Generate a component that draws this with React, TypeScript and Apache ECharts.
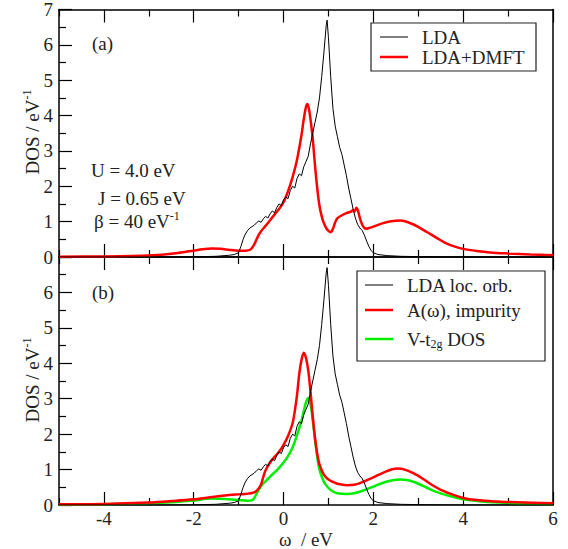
import React, { useEffect, useRef } from "react";
import * as echarts from "echarts";

// Energy axis (eV) and DOS values (states / eV) for each curve, as [omega, dos]
const ldaDos: [number, number][] = [
  [-5, 0], [-3, 0], [-2, 0.005], [-1.5, 0.02], [-1.2, 0.05], [-1.1, 0.07], [-1.0, 0.12],
  [-0.95, 0.3], [-0.9, 0.5], [-0.85, 0.65], [-0.8, 0.75], [-0.75, 0.82], [-0.7, 0.86],
  [-0.65, 0.9], [-0.6, 0.97], [-0.55, 1.02], [-0.5, 0.98], [-0.45, 1.08], [-0.4, 1.15],
  [-0.35, 1.1], [-0.3, 1.22], [-0.25, 1.3], [-0.2, 1.25], [-0.15, 1.4], [-0.1, 1.5],
  [-0.05, 1.45], [0, 1.62], [0.05, 1.7], [0.1, 1.65], [0.15, 1.88], [0.2, 2.0], [0.25, 1.95],
  [0.3, 2.22], [0.35, 2.35], [0.4, 2.3], [0.45, 2.55], [0.5, 2.7], [0.55, 2.85], [0.6, 3.2],
  [0.65, 3.5], [0.7, 3.8], [0.75, 4.1], [0.8, 4.5], [0.85, 5.1], [0.9, 5.8], [0.95, 6.55],
  [0.97, 6.7], [1.0, 6.2], [1.05, 5.1], [1.1, 4.2], [1.15, 3.7], [1.2, 3.4], [1.25, 3.1],
  [1.3, 2.9], [1.35, 2.6], [1.4, 2.3], [1.45, 1.95], [1.5, 1.65], [1.55, 1.35], [1.6, 1.1],
  [1.65, 0.92], [1.7, 0.82], [1.75, 0.75], [1.8, 0.62], [1.85, 0.45], [1.9, 0.3],
  [1.95, 0.18], [2.0, 0.12], [2.1, 0.07], [2.3, 0.04], [2.6, 0.02], [3, 0.01], [4, 0], [6, 0],
];

const dmftDos: [number, number][] = [
  [-5, 0.01], [-4, 0.015], [-3, 0.04], [-2.5, 0.09], [-2.2, 0.14], [-2, 0.18], [-1.8, 0.22],
  [-1.6, 0.24], [-1.4, 0.23], [-1.2, 0.2], [-1.0, 0.18], [-0.85, 0.18], [-0.75, 0.2],
  [-0.7, 0.26], [-0.65, 0.36], [-0.6, 0.5], [-0.55, 0.63], [-0.5, 0.73], [-0.4, 0.88],
  [-0.3, 1.04], [-0.2, 1.2], [-0.1, 1.36], [0, 1.55], [0.1, 1.86], [0.2, 2.25], [0.3, 2.75],
  [0.4, 3.45], [0.45, 3.9], [0.5, 4.25], [0.53, 4.33], [0.56, 4.22], [0.6, 3.9], [0.65, 3.35],
  [0.7, 2.6], [0.75, 1.95], [0.8, 1.45], [0.85, 1.15], [0.9, 0.95], [0.95, 0.82], [1.0, 0.74],
  [1.05, 0.7], [1.1, 0.8], [1.15, 0.98], [1.2, 1.1], [1.3, 1.18], [1.4, 1.24], [1.5, 1.28],
  [1.55, 1.33], [1.58, 1.28], [1.62, 1.39], [1.66, 1.3], [1.7, 1.1], [1.75, 0.92], [1.8, 0.82],
  [1.85, 0.8], [1.9, 0.82], [2.0, 0.86], [2.2, 0.95], [2.4, 1.01], [2.6, 1.03], [2.8, 0.97],
  [3.0, 0.85], [3.2, 0.7], [3.4, 0.55], [3.6, 0.4], [3.8, 0.3], [4.0, 0.23], [4.3, 0.17],
  [4.6, 0.13], [5.0, 0.1], [5.5, 0.07], [6, 0.05],
];

const impurityDos: [number, number][] = [
  [-5, 0.02], [-4, 0.03], [-3, 0.07], [-2.5, 0.11], [-2, 0.16], [-1.5, 0.24], [-1.2, 0.28],
  [-1, 0.3], [-0.8, 0.32], [-0.7, 0.34], [-0.6, 0.4], [-0.5, 0.58], [-0.45, 0.8], [-0.4, 0.98],
  [-0.3, 1.2], [-0.2, 1.36], [-0.1, 1.5], [0, 1.7], [0.1, 1.95], [0.2, 2.3], [0.25, 2.65],
  [0.3, 3.1], [0.35, 3.7], [0.4, 4.1], [0.45, 4.3], [0.5, 4.15], [0.55, 3.8], [0.6, 3.2],
  [0.65, 2.5], [0.7, 1.9], [0.75, 1.45], [0.8, 1.15], [0.9, 0.85], [1.0, 0.72], [1.1, 0.65],
  [1.2, 0.6], [1.4, 0.56], [1.6, 0.58], [1.8, 0.67], [2.0, 0.78], [2.2, 0.9], [2.4, 1.0],
  [2.55, 1.03], [2.7, 1.0], [2.9, 0.89], [3.1, 0.74], [3.3, 0.57], [3.5, 0.43], [3.8, 0.28],
  [4.0, 0.2], [4.3, 0.14], [4.7, 0.1], [5.2, 0.08], [6, 0.05],
];

const vt2gDos: [number, number][] = [
  [-5, 0.01], [-4, 0.02], [-3, 0.05], [-2.5, 0.08], [-2, 0.13], [-1.6, 0.18], [-1.3, 0.17],
  [-1, 0.14], [-0.8, 0.12], [-0.7, 0.14], [-0.65, 0.2], [-0.6, 0.32], [-0.55, 0.44],
  [-0.5, 0.54], [-0.4, 0.67], [-0.3, 0.8], [-0.2, 0.92], [-0.1, 1.05], [0, 1.2], [0.1, 1.38],
  [0.2, 1.62], [0.3, 1.97], [0.4, 2.38], [0.45, 2.65], [0.5, 2.9], [0.55, 3.02], [0.6, 2.85],
  [0.65, 2.4], [0.7, 1.85], [0.75, 1.35], [0.8, 1.0], [0.9, 0.65], [1.0, 0.48], [1.1, 0.38],
  [1.2, 0.33], [1.4, 0.31], [1.6, 0.34], [1.8, 0.42], [2.0, 0.52], [2.2, 0.62], [2.4, 0.69],
  [2.6, 0.72], [2.8, 0.69], [3.0, 0.6], [3.2, 0.48], [3.4, 0.37], [3.7, 0.25], [4.0, 0.16],
  [4.4, 0.1], [4.8, 0.07], [5.4, 0.04], [6, 0.03],
];

// Tick positions on the energy axis
const xMajorTicks = [-4, -2, 0, 2, 4, 6];
const xMinorTicks = [-5, -3, -1, 1, 3, 5];

const legendTop = ["LDA", "LDA+DMFT"];
const legendBottom = ["LDA loc. orb.", "A(ω), impurity", "V-t"];
const paramLines = ["U = 4.0 eV", "J = 0.65 eV"];

const FONT = "'Liberation Serif', 'DejaVu Serif', serif";
const TXT = "#222";
const FS = 19;

export default function App() {
  const ref = useRef<HTMLDivElement>(null);

  useEffect(() => {
    if (!ref.current) return;
    const chart = echarts.init(ref.current, undefined, { renderer: "svg" });

    const grids = [
      { left: 59, right: 15, top: 8, height: 249 },
      { left: 59, right: 15, top: 257, height: 248 },
    ];

    // energy axis: long ticks on even values, short ticks on odd values
    const xAxis = (gridIndex: number, position: "top" | "bottom", major: boolean, labels: boolean) => ({
      type: "value",
      gridIndex,
      position,
      min: -5,
      max: 6,
      interval: 1,
      axisLine: { show: major, onZero: false, lineStyle: { color: "#000", width: 1.5 } },
      axisTick: {
        show: true,
        inside: true,
        length: major ? 13 : 7,
        customValues: major ? xMajorTicks : xMinorTicks,
        lineStyle: { color: "#000", width: 1.2 },
      },
      splitLine: { show: false },
      axisLabel: labels
        ? {
            show: true,
            margin: 4,
            fontFamily: FONT,
            fontSize: FS,
            color: TXT,
            customValues: xMajorTicks,
          }
        : { show: false },
    });

    const yLeft = (gridIndex: number, maxLabel: number) => ({
      type: "value",
      gridIndex,
      position: "left",
      min: 0,
      max: 7,
      interval: 1,
      axisLine: { show: true, onZero: false, lineStyle: { color: "#000", width: 1.5 } },
      axisTick: { show: true, inside: true, length: 13, lineStyle: { color: "#000", width: 1.2 } },
      minorTick: { show: true, splitNumber: 2, length: 7, lineStyle: { color: "#000", width: 1.2 } },
      splitLine: { show: false },
      axisLabel: {
        show: true,
        margin: 6,
        fontFamily: FONT,
        fontSize: FS,
        color: TXT,
        formatter: (v: number) => (v <= maxLabel ? String(v) : ""),
      },
    });
    const yRight = (gridIndex: number) => ({
      type: "value",
      gridIndex,
      position: "right",
      min: 0,
      max: 7,
      interval: 1,
      axisLine: { show: true, onZero: false, lineStyle: { color: "#000", width: 1.5 } },
      axisTick: { show: false },
      splitLine: { show: false },
      axisLabel: { show: false },
    });

    const line = (data: [number, number][], color: string, width: number, xi: number, yi: number, smooth: number | boolean) => ({
      type: "line",
      data,
      xAxisIndex: xi,
      yAxisIndex: yi,
      showSymbol: false,
      smooth,
      clip: true,
      lineStyle: { color, width },
      z: width > 1.5 ? 3 : 4,
    });

    const legendLine = (x: number, y: number, color: string, width: number) => ({
      type: "line",
      shape: { x1: x, y1: y, x2: x + 28, y2: y },
      style: { stroke: color, lineWidth: width },
    });
    const label = (x: number, y: number, text: string, rich?: any, align = "left") => ({
      type: "text",
      x,
      y,
      style: {
        text,
        fontFamily: FONT,
        fontSize: FS,
        fill: TXT,
        align,
        verticalAlign: "middle",
        rich,
      },
    });
    const supRich = {
      sup: { fontFamily: FONT, fontSize: 12, fill: TXT, padding: [0, 0, 10, 0] },
    };
    const subRich = {
      sub: { fontFamily: FONT, fontSize: 12, fill: TXT, padding: [10, 0, 0, 0] },
    };
    const yTitle = (y: number) => ({
      type: "text",
      x: 32,
      y,
      rotation: Math.PI / 2,
      style: {
        text: "DOS / eV{sup|-1}",
        fontFamily: FONT,
        fontSize: FS,
        fill: TXT,
        align: "center",
        verticalAlign: "middle",
        rich: supRich,
      },
    });

    chart.setOption({
      animation: false,
      backgroundColor: "#fff",
      grid: grids,
      xAxis: [
        xAxis(0, "bottom", true, false),
        xAxis(0, "bottom", false, false),
        xAxis(0, "top", true, false),
        xAxis(0, "top", false, false),
        xAxis(1, "bottom", true, true),
        xAxis(1, "bottom", false, false),
        xAxis(1, "top", true, false),
        xAxis(1, "top", false, false),
      ],
      yAxis: [yLeft(0, 7), yRight(0), yLeft(1, 6), yRight(1)],
      series: [
        line(ldaDos, "#000", 1, 0, 0, false),
        line(dmftDos, "#ff0000", 2.5, 0, 0, 0.3),
        line(ldaDos, "#000", 1, 4, 2, false),
        line(vt2gDos, "#00ee00", 2.5, 4, 2, 0.3),
        line(impurityDos, "#ff0000", 2.5, 4, 2, 0.3),
      ],
      graphic: [
        // panel (a) annotations
        label(92, 43, "(a)"),
        label(91, 170, paramLines[0]),
        label(98, 198, paramLines[1]),
        label(94, 221, "β = 40 eV{sup|-1}", supRich),
        // panel (b) label
        label(92, 292, "(b)"),
        // y axis titles
        yTitle(132),
        yTitle(380),
        // x axis title
        label(306, 539.5, "ω  / eV", undefined, "center"),
        // legend, panel (a)
        {
          type: "rect",
          shape: { x: 371, y: 23, width: 165, height: 48 },
          style: { fill: "#fff", stroke: "#222", lineWidth: 1.2 },
          z: 10,
        },
        { ...legendLine(380, 37, "#000", 1), z: 11 },
        { ...legendLine(380, 57, "#ff0000", 2.5), z: 11 },
        { ...label(422, 37, legendTop[0]), z: 11 },
        { ...label(422, 57, legendTop[1]), z: 11 },
        // legend, panel (b)
        {
          type: "rect",
          shape: { x: 357, y: 271, width: 188, height: 90 },
          style: { fill: "#fff", stroke: "#222", lineWidth: 1.2 },
          z: 10,
        },
        { ...legendLine(365, 285, "#000", 1), z: 11 },
        { ...legendLine(365, 310, "#ff0000", 2.5), z: 11 },
        { ...legendLine(365, 339, "#00ee00", 2.5), z: 11 },
        { ...label(407, 285, legendBottom[0]), z: 11 },
        { ...label(407, 310, legendBottom[1]), z: 11 },
        { ...label(407, 339, legendBottom[2] + "{sub|2g} DOS", subRich), z: 11 },
      ],
    });

    return () => chart.dispose();
  }, []);

  return (
    <div
      ref={ref}
      style={{ position: "absolute", left: 0, top: 0, width: 568, height: 549 }}
    />
  );
}
